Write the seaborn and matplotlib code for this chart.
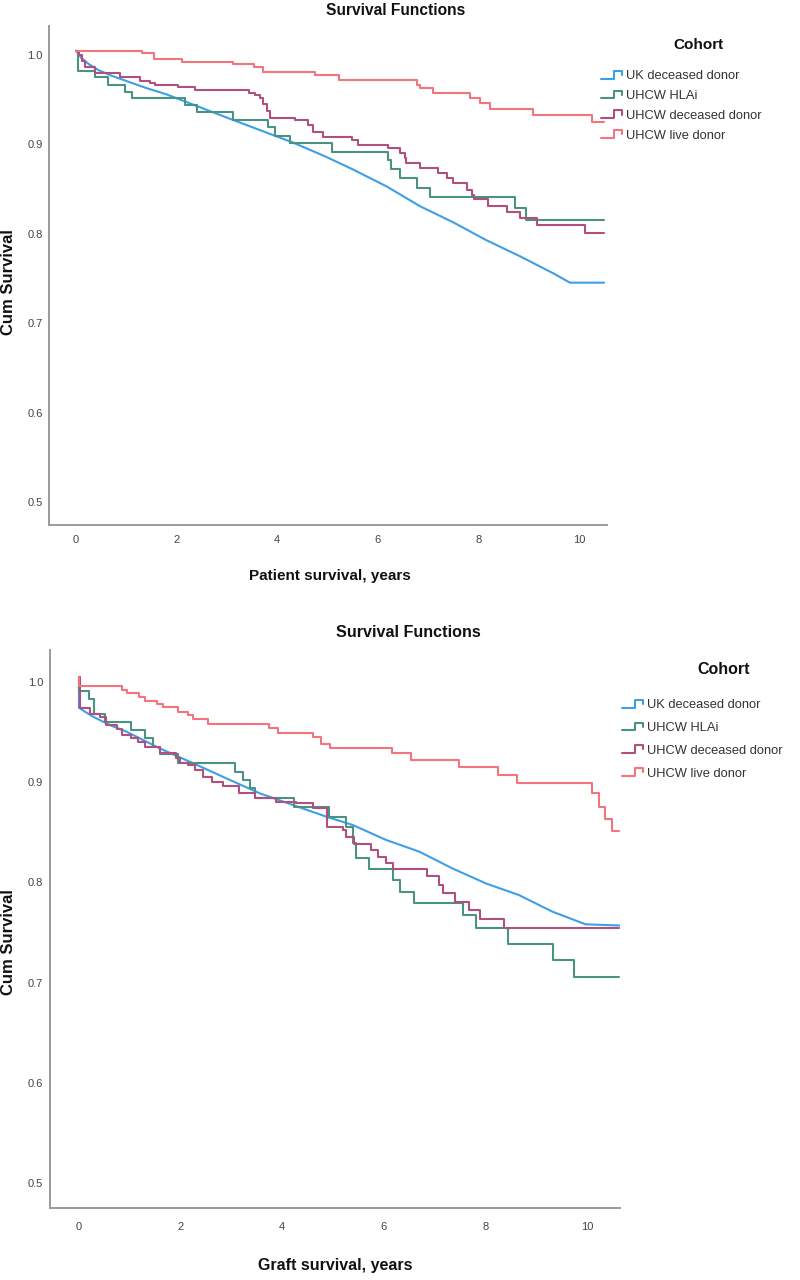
import matplotlib
matplotlib.use("Agg")
import matplotlib.pyplot as plt
from matplotlib.legend_handler import HandlerBase
from matplotlib.lines import Line2D
from matplotlib.transforms import ScaledTranslation
import seaborn as sns
import pandas as pd

cohorts = ["UK deceased donor", "UHCW HLAi", "UHCW deceased donor", "UHCW live donor"]
colors = ["#3d9fe6", "#4a9282", "#b0507f", "#f4747e"]
yticks = [0.5, 0.6, 0.7, 0.8, 0.9, 1.0]
xticks = [0, 2, 4, 6, 8, 10]

# patient survival (top panel)
pat_uk_t = [0, 0.1, 0.25, 0.45, 0.7, 1.0, 1.4, 1.8, 2.4, 3.0, 3.66, 4.32, 4.98, 5.51,
            6.18, 6.84, 7.5, 8.16, 8.83, 9.49, 9.82, 10.5]
pat_uk_s = [1.0, 0.992, 0.985, 0.978, 0.972, 0.966, 0.958, 0.951, 0.938, 0.925, 0.911,
            0.897, 0.881, 0.867, 0.848, 0.826, 0.808, 0.788, 0.770, 0.751, 0.7406, 0.7406]

pat_hla_t = [0, 0.03, 0.38, 0.64, 0.97, 1.11, 2.17, 2.41, 3.13, 3.82, 3.96, 4.26, 5.08,
             6.21, 6.27, 6.44, 6.77, 7.04, 8.73, 8.95, 10.5]
pat_hla_s = [1.0, 0.9774, 0.970, 0.962, 0.954, 0.9466, 0.939, 0.9316, 0.9223, 0.914,
             0.9048, 0.897, 0.887, 0.8777, 0.868, 0.857, 0.846, 0.836, 0.8236, 0.8106, 0.8106]

pat_dec_t = [0, 0.05, 0.11, 0.18, 0.38, 0.87, 1.27, 1.47, 1.57, 2.03, 2.36, 3.43, 3.55,
             3.66, 3.72, 3.79, 3.86, 4.35, 4.62, 4.72, 4.92, 5.48, 5.61, 6.21, 6.44, 6.54,
             6.57, 6.84, 7.20, 7.37, 7.50, 7.77, 7.87, 7.92, 8.20, 8.57, 8.83, 9.16, 10.12, 10.5]
pat_dec_s = [1.0, 0.995, 0.988, 0.982, 0.9745, 0.9708, 0.9663, 0.9633, 0.9615, 0.9596,
             0.9559, 0.9529, 0.950, 0.9466, 0.940, 0.932, 0.9242, 0.9223, 0.9168, 0.9093,
             0.9037, 0.900, 0.8944, 0.8907, 0.885, 0.8796, 0.8747, 0.869, 0.8635, 0.858,
             0.8516, 0.8441, 0.8386, 0.8337, 0.8266, 0.820, 0.8125, 0.805, 0.7964, 0.7964]

pat_live_t = [0, 1.31, 1.56, 2.10, 3.13, 3.53, 3.72, 4.75, 5.22, 6.77, 6.83, 7.10, 7.83,
              8.03, 8.24, 9.09, 10.25, 10.5]
pat_live_s = [1.0, 0.997, 0.991, 0.9875, 0.9845, 0.982, 0.9764, 0.9726, 0.967, 0.9615,
              0.9578, 0.952, 0.9466, 0.941, 0.9346, 0.928, 0.9205, 0.9205]

# graft survival (bottom panel)
gr_uk_t = [0, 0, 0.10, 0.28, 0.61, 0.94, 1.59, 2.25, 2.90, 3.56, 4.21, 4.87, 5.39, 6.05,
           6.70, 7.35, 8.01, 8.66, 9.32, 9.97, 10.64]
gr_uk_s = [1.0, 0.9694, 0.966, 0.9604, 0.952, 0.9454, 0.9288, 0.9139, 0.8989, 0.8839,
           0.8723, 0.8606, 0.8523, 0.8373, 0.8257, 0.809, 0.794, 0.7824, 0.7658, 0.7532, 0.752]

gr_hla_t = [0, 0, 0.20, 0.30, 0.51, 1.03, 1.30, 1.46, 1.59, 1.95, 3.08, 3.23, 3.36, 3.46,
            4.24, 4.93, 5.26, 5.39, 5.45, 5.70, 6.18, 6.31, 6.59, 7.56, 7.81, 8.45, 9.34,
            9.74, 10.64]
gr_hla_s = [1.0, 0.986, 0.9777, 0.9627, 0.9554, 0.947, 0.9388, 0.9305, 0.9228, 0.9145,
            0.9055, 0.8972, 0.8889, 0.8795, 0.8706, 0.8606, 0.8506, 0.834, 0.8197, 0.8084,
            0.7974, 0.7857, 0.7742, 0.7625, 0.7492, 0.7335, 0.7176, 0.7003, 0.7003]

gr_dec_t = [0, 0.02, 0.22, 0.41, 0.54, 0.74, 0.84, 1.03, 1.17, 1.30, 1.59, 1.92, 1.98,
            2.15, 2.28, 2.44, 2.61, 2.84, 3.16, 3.46, 3.88, 4.28, 4.60, 4.88, 5.19, 5.26,
            5.42, 5.75, 5.88, 6.05, 6.19, 6.86, 7.09, 7.17, 7.41, 7.68, 7.90, 8.36, 10.64]
gr_dec_s = [1.0, 0.9687, 0.9627, 0.9604, 0.952, 0.948, 0.942, 0.9394, 0.9355, 0.9305,
            0.9238, 0.9189, 0.9145, 0.9122, 0.9072, 0.9005, 0.8955, 0.8915, 0.8839, 0.8795,
            0.8756, 0.874, 0.869, 0.8506, 0.8473, 0.840, 0.8333, 0.8273, 0.8207, 0.814,
            0.8084, 0.8017, 0.7924, 0.7841, 0.775, 0.7675, 0.7585, 0.7492, 0.7492]

gr_live_t = [0, 0, 0.84, 0.94, 1.18, 1.30, 1.53, 1.66, 1.95, 2.15, 2.25, 2.54, 3.75, 3.92,
             4.60, 4.77, 4.95, 6.16, 6.54, 7.49, 8.25, 8.62, 10.09, 10.24, 10.35, 10.50, 10.64]
gr_live_s = [1.0, 0.9913, 0.987, 0.9837, 0.9797, 0.976, 0.9727, 0.9697, 0.9654, 0.962,
             0.9577, 0.9528, 0.9488, 0.9444, 0.9404, 0.9331, 0.9295, 0.9238, 0.9172, 0.9098,
             0.9022, 0.8939, 0.8839, 0.8706, 0.8583, 0.8463, 0.8463]

sns.set_theme(style="white")
plt.rcParams["font.family"] = ["Liberation Sans", "DejaVu Sans"]


class StepHandler(HandlerBase):
    # small stair-step icon like SPSS legends
    def create_artists(self, legend, orig_handle, xdescent, ydescent, width, height,
                       fontsize, trans):
        x0, y0 = -xdescent, -ydescent
        xs = [x0, x0 + 0.55 * width, x0 + 0.55 * width, x0 + 0.9 * width, x0 + 0.9 * width]
        ys = [y0 + 0.1 * height, y0 + 0.1 * height, y0 + 0.95 * height,
              y0 + 0.95 * height, y0 + 0.5 * height]
        ln = Line2D(xs, ys, color=orig_handle.get_color(), lw=orig_handle.get_linewidth())
        ln.set_transform(trans)
        return [ln]


fig = plt.figure(figsize=(8, 12.8), dpi=100)
ax1 = fig.add_axes([0.06125, 0.58984, 0.6975, 0.38985])
ax2 = fig.add_axes([0.0625, 0.05625, 0.7125, 0.43594])

panels = [
    (ax1, [(pat_uk_t, pat_uk_s), (pat_hla_t, pat_hla_s), (pat_dec_t, pat_dec_s), (pat_live_t, pat_live_s)],
     (-0.537, 10.557), (0.4698, 1.0274), 7, 4.5, 3.0),
    (ax2, [(gr_uk_t, gr_uk_s), (gr_hla_t, gr_hla_s), (gr_dec_t, gr_dec_s), (gr_live_t, gr_live_s)],
     (-0.57, 10.65), (0.470, 1.027), 10, 5, 3.6),
]

for ax, series, xl, yl, xpad, ypad, ydrop in panels:
    for name, col, (t, s) in zip(cohorts, colors, series):
        df = pd.DataFrame({"years": t, "surv": s})
        style = "default" if name == "UK deceased donor" else "steps-post"
        sns.lineplot(data=df, x="years", y="surv", ax=ax, color=col, lw=1.5, label=name,
                     estimator=None, sort=False, drawstyle=style)
    ax.set_xlim(*xl)
    ax.set_ylim(*yl)
    ax.set_xticks(xticks)
    ax.set_yticks(yticks)
    ax.set_xticklabels([str(v) for v in xticks])
    ax.set_yticklabels([f"{v:.1f}" for v in yticks])
    ax.set_xlabel("")
    ax.set_ylabel("")
    sns.despine(ax=ax)
    for sp in ("left", "bottom"):
        ax.spines[sp].set_color("#9a9a9a")
        ax.spines[sp].set_linewidth(1.4)
    ax.tick_params(length=0, labelsize=8, labelcolor="#444444")
    ax.tick_params(axis="x", pad=xpad)
    ax.tick_params(axis="y", pad=ypad)
    # SPSS puts the y labels a little below their gridline value
    for lab in ax.get_yticklabels():
        lab.set_transform(lab.get_transform() + ScaledTranslation(0, -ydrop / 72, fig.dpi_scale_trans))

# titles and axis labels
fig.text(0.494, 0.992, "Survival Functions", ha="center", va="center",
         fontsize=11.2, fontweight="bold", color="#111111")
fig.text(0.51, 0.506, "Survival Functions", ha="center", va="center",
         fontsize=11.6, fontweight="bold", color="#111111")
fig.text(0.4125, 0.55, "Patient survival, years", ha="center", va="center",
         fontsize=11, fontweight="bold", color="#111111")
fig.text(0.419, 0.0117, "Graft survival, years", ha="center", va="center",
         fontsize=11.5, fontweight="bold", color="#111111")
for yc in (0.7797, 0.2640):
    fig.text(0.011, yc, "Cum Survival", rotation=90, ha="center", va="center",
             fontsize=12, fontweight="bold", color="#111111")

# legends: title as separate text, entries with step icons
legend_specs = [
    (ax1, (0.751, 0.9450), 0.6, (0.8725, 0.9648), 11),
    (ax2, (0.7775, 0.4536), 0.83, (0.904, 0.4766), 11.5),
]
for ax, anchor, spacing, title_xy, title_size in legend_specs:
    handles, labels = ax.get_legend_handles_labels()
    leg = ax.legend(handles, labels, loc="upper left",
                    bbox_to_anchor=anchor, bbox_transform=fig.transFigure,
                    frameon=False, fontsize=9.3, labelspacing=spacing,
                    handlelength=1.8, handletextpad=0.15, borderpad=0,
                    borderaxespad=0, handler_map={Line2D: StepHandler()})
    for txt in leg.get_texts():
        txt.set_color("#333333")
    fig.text(title_xy[0], title_xy[1], "Cohort", ha="center", va="center",
             fontsize=title_size, fontweight="bold", color="#111111")

fig.savefig("out.png", dpi=100)
